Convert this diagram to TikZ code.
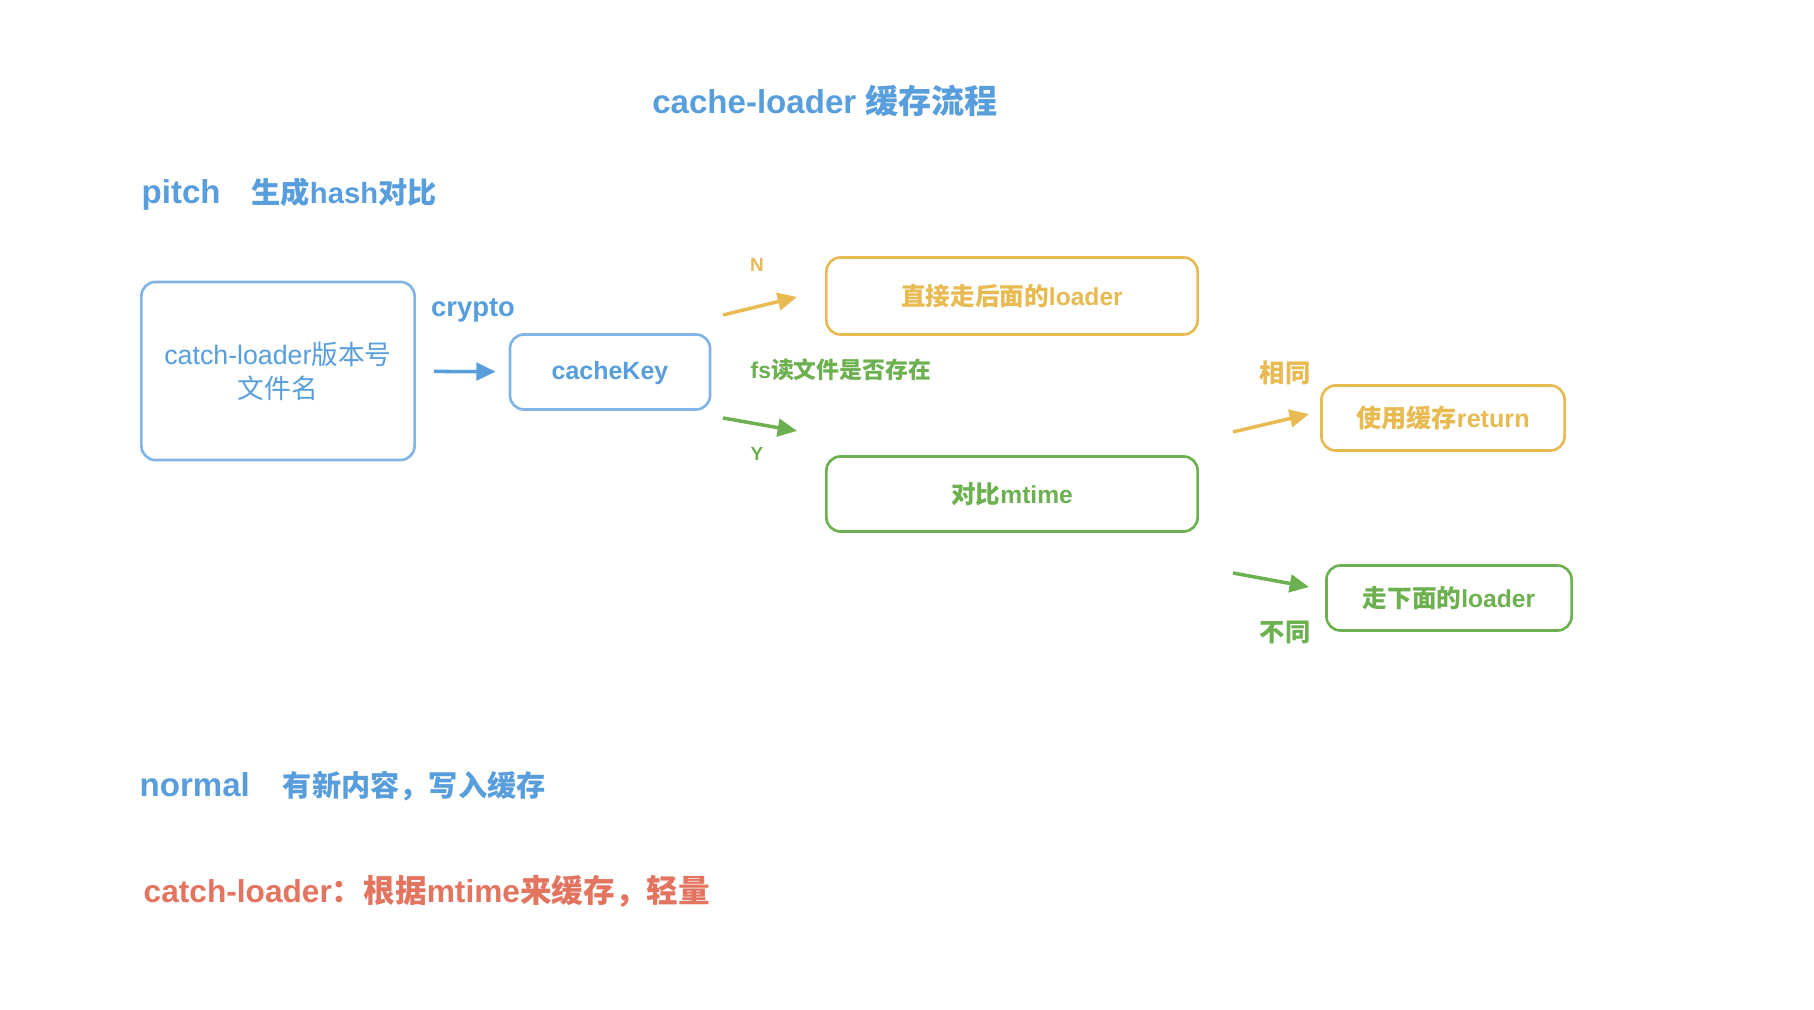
\documentclass[tikz,border=0pt]{standalone}
\usepackage{fontspec}
\setmainfont{Liberation Sans}
\newfontfamily\cjk{Noto Sans CJK SC}
\usetikzlibrary{arrows.meta}

\definecolor{skyblue}{RGB}{88,158,220}
\definecolor{lineblue}{RGB}{130,180,230}
\definecolor{gold}{RGB}{232,186,82}
\definecolor{leaf}{RGB}{108,176,80}
\definecolor{coral}{RGB}{226,116,96}

\begin{document}
\begin{tikzpicture}[x=0.01cm, y=-0.01cm, >={Triangle[length=5.5pt,width=5pt]},
  box/.style={draw, rounded corners=4pt, line width=0.75pt, inner sep=0pt, align=center},
  flow/.style={->, line width=1pt},
  lbl/.style={inner sep=0pt, font=\fontsize{#1}{#1}\selectfont\bfseries},
  lbl/.default=7pt]
   \useasboundingbox[fill=white] (0,0) rectangle (1814,1010);

   % headings
   \node[lbl=9.4pt, text=skyblue] (title) at (825,101) {cache-loader {\cjk 缓存流程}};
   \node[lbl=9.4pt, text=skyblue, anchor=west] (pitch) at (141,194)
      {pitch\hspace{8.8pt}{\fontsize{8.3pt}{8.3pt}\selectfont\cjk 生成}{\fontsize{8.3pt}{8.3pt}\selectfont hash\cjk 对比}};
   \node[lbl=9.4pt, text=skyblue, anchor=west] (normal) at (139,786)
      {normal\hspace{9.4pt}{\fontsize{8.3pt}{8.3pt}\selectfont\cjk 有新内容，写入缓存}};
   \node[lbl=9pt, text=coral, anchor=west] (note) at (143,891)
      {catch-loader{\cjk ：根据}mtime{\cjk 来缓存，轻量}};

   % boxes
   \node[box, draw=lineblue, text=skyblue, minimum width=2.73cm, minimum height=1.78cm,
         font=\fontsize{7.6pt}{9.6pt}\selectfont] (src) at (278,371) {catch-loader{\cjk 版本号}\\{\cjk 文件名}};
   \node[box, draw=lineblue, text=skyblue, minimum width=2cm, minimum height=0.75cm,
         font=\fontsize{7.1pt}{7.1pt}\selectfont\bfseries, text depth=1pt] (key) at (610,372) {cacheKey};
   \node[box, draw=gold, text=gold, minimum width=3.71cm, minimum height=0.77cm,
         font=\fontsize{7pt}{7pt}\selectfont\bfseries] (skip) at (1012,296) {{\cjk 直接走后面的}loader};
   \node[box, draw=leaf, text=leaf, minimum width=3.71cm, minimum height=0.75cm,
         font=\fontsize{7pt}{7pt}\selectfont\bfseries] (mtime) at (1012,494) {{\cjk 对比}mtime};
   \node[box, draw=gold, text=gold, minimum width=2.43cm, minimum height=0.65cm,
         font=\fontsize{7.15pt}{7.15pt}\selectfont\bfseries] (hit) at (1443,418) {{\cjk 使用缓存}return};
   \node[box, draw=leaf, text=leaf, minimum width=2.45cm, minimum height=0.65cm,
         font=\fontsize{7pt}{7pt}\selectfont\bfseries] (miss) at (1449,598) {{\cjk 走下面的}loader};

   % labels
   \node[lbl=7.8pt, text=skyblue] (crypto) at (473,310) {crypto};
   \node[lbl=6.5pt, text=leaf, anchor=west] (exists) at (750,370) {fs{\cjk 读文件是否存在}};
   \node[lbl=5.4pt, text=gold] (no) at (757,265) {N};
   \node[lbl=5.4pt, text=leaf] (yes) at (757,454) {Y};
   \node[lbl=7.2pt, text=gold] (same) at (1285,373) {\cjk 相同};
   \node[lbl=7.2pt, text=leaf] (diff) at (1285,632) {\cjk 不同};

   % arrows
   \coordinate (n0) at (723,315);  \coordinate (n1) at (797,297);
   \coordinate (y0) at (723,418);  \coordinate (y1) at (797,431);
   \coordinate (s0) at (1233,432); \coordinate (s1) at (1309,414);
   \coordinate (d0) at (1233,573); \coordinate (d1) at (1309,587);
   \draw[flow, skyblue, shorten <=18pt*0.2845, shorten >=13pt*0.2845] (src) -- (key);
   \draw[flow, gold] (n0) -- (n1);
   \draw[flow, leaf] (y0) -- (y1);
   \draw[flow, gold] (s0) -- (s1);
   \draw[flow, leaf] (d0) -- (d1);
\end{tikzpicture}
\end{document}
